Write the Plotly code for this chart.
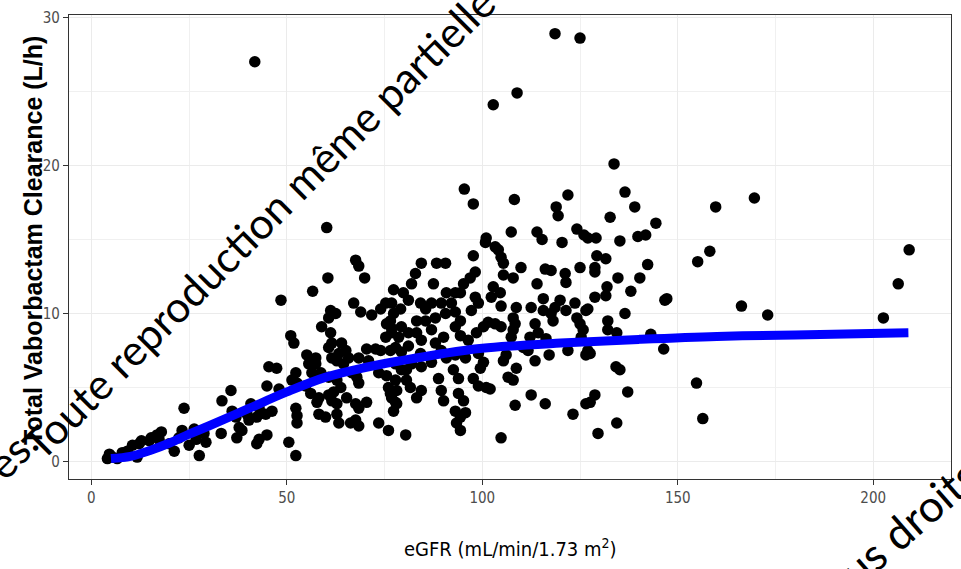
import plotly.graph_objects as go

# Observed total vaborbactam clearance (L/h) against eGFR (mL/min/1.73 m2)
egfr = [
    4.6, 4.1, 5.4, 6.6, 8.4, 7.9, 9.2, 10.5, 12.2, 12.8, 11.7, 14.8, 15.3, 16.8, 17.9, 17.3, 19.9, 21.2,
    23.7, 23.2, 22.4, 25.0, 26.3, 26.8, 27.6, 29.3, 28.8, 33.4, 35.7, 36.0, 37.0, 37.8, 33.2, 38.5, 37.2,
    40.8, 39.8, 42.3, 40.3, 42.9, 42.9, 44.6, 42.3, 46.2, 44.9, 44.9, 48.0, 45.4, 47.4, 48.5, 50.5, 52.3,
    52.3, 52.6, 52.6, 51.0, 51.8, 52.3, 51.3, 52.6, 54.8, 56.1, 58.2, 57.7, 55.1, 57.4, 57.4, 55.6, 58.7,
    56.4, 56.6, 58.9, 58.2, 59.9, 60.2, 60.5, 61.2, 62.5, 60.7, 61.2, 61.5, 60.7, 64.0, 65.1, 63.3, 61.5,
    62.8, 64.5, 65.8, 60.7, 62.8, 63.8, 62.0, 60.7, 61.5, 62.8, 62.8, 63.3, 65.3, 67.6, 68.4, 70.4, 67.6,
    66.3, 68.4, 66.6, 67.9, 68.4, 67.6, 68.4, 69.9, 67.1, 68.9, 70.4, 72.7, 74.0, 70.9, 68.4, 71.7, 74.0,
    75.3, 77.3, 76.8, 77.3, 75.5, 75.3, 76.8, 73.5, 75.5, 77.8, 76.0, 76.8, 77.8, 73.5, 76.0, 80.4,
    100.8, 103.3, 97.7, 98.2, 96.9, 84.4, 88.3, 90.6, 82.9, 81.9, 87.5, 79.8, 81.1, 90.8, 93.1, 92.1,
    95.2, 94.4, 98.2, 99.0, 97.2, 79.1, 84.2, 87.0, 85.5, 89.5, 90.6, 83.2, 85.5, 88.0, 93.1, 94.4, 93.1,
    76.5, 76.8, 79.3, 81.1, 78.6, 83.2, 84.4, 87.0, 90.1, 88.0, 94.4, 96.4, 98.5, 100.3, 101.5, 77.8,
    76.5, 79.3, 81.1, 84.2, 89.5, 90.8, 93.1, 95.7, 99.0, 100.3, 99.5, 77.8, 79.3, 81.9, 80.6, 84.4,
    87.0, 88.8, 92.6, 93.9, 97.7, 99.0, 101.0, 78.1, 76.5, 80.6, 81.6, 84.4, 83.2, 89.5, 90.1, 93.9,
    95.2, 78.1, 77.3, 93.1, 94.4, 93.4, 95.7, 94.4,
    95.4, 97.7, 108.2, 121.9, 118.9, 119.4, 101.0, 107.4, 114.0, 115.3, 120.4, 124.2, 126.0, 129.1,
    135.2, 139.8, 141.8, 132.7, 136.5, 139.0, 133.7, 144.4,
    104.1, 104.8, 105.4, 105.4, 107.9, 109.9, 116.1, 117.6, 121.2, 121.4, 125.0, 114.0, 102.8, 104.6,
    102.3, 104.8, 108.7, 107.9, 108.4, 112.5, 115.6, 115.6, 117.6, 118.6, 118.1, 119.9, 121.4, 123.7,
    124.2, 125.0, 126.5, 128.8, 103.3, 104.8, 107.9, 107.4, 113.5, 114.3, 112.2, 116.3, 110.5, 111.7,
    121.9, 125.8, 125.3, 105.4, 106.1, 113.5, 117.1, 126.5, 127.0, 108.7, 106.6, 107.9, 102.0, 112.5,
    108.4, 116.1, 123.2, 126.5, 128.8, 104.8, 129.6,
    127.0, 129.3, 131.6, 128.8, 128.8, 142.3, 134.7, 140.3, 131.9, 131.6, 138.0, 147.2, 146.7, 127.0,
    136.5, 132.1, 132.1, 134.4, 143.1, 146.4, 127.6, 134.2, 135.2, 137.2, 127.6, 134.4,
    159.7, 169.6, 155.1, 158.2, 166.3, 173.0, 202.6, 206.4, 209.2, 154.8, 156.4,
    41.8, 118.6, 125.0, 102.8, 108.9,
]
clearance = [
    0.5, 0.2, 0.3, 0.2, 0.4, 0.6, 0.7, 1.1, 1.2, 1.4, 0.3, 1.4, 1.6, 1.8, 2.0, 1.5, 1.2, 0.7,
    3.6, 2.1, 1.6, 1.1, 2.2, 1.5, 0.4, 1.3, 1.9, 4.1, 4.8, 3.4, 3.0, 2.3, 1.9, 2.1, 1.6,
    3.9, 3.2, 1.2, 2.8, 1.5, 3.6, 3.2, 3.0, 3.4, 1.8, 5.1, 4.9, 6.4, 6.3, 10.9, 1.3, 0.4,
    3.6, 3.1, 2.6, 8.5, 8.0, 6.0, 5.5, 5.3, 5.1, 4.6, 4.3, 4.0, 7.2, 7.0, 6.6, 6.6, 6.0,
    6.0, 11.5, 9.1, 3.2, 3.0, 15.8, 12.4, 10.2, 10.0, 9.7, 8.7, 8.0, 7.7, 8.0, 7.5, 7.3, 7.0,
    6.8, 6.6, 7.0, 5.7, 5.5, 5.0, 4.7, 4.5, 4.1, 3.9, 3.2, 2.6, 4.3, 3.9, 3.6, 4.0, 2.8,
    2.6, 2.4, 6.0, 5.7, 5.3, 13.6, 13.2, 12.4, 10.7, 10.1, 7.6, 7.6, 7.5, 6.8, 7.0, 9.9, 10.3,
    10.7, 11.6, 10.7, 10.0, 9.3, 8.4, 8.7, 6.0, 5.8, 5.5, 5.0, 4.3, 4.0, 2.6, 2.1, 1.8,
    14.8, 14.5, 13.9, 12.8, 12.4, 13.4, 13.4, 13.4, 12.7, 12.0, 12.0, 11.4, 10.9, 11.4, 11.4, 10.7,
    12.0, 11.4, 11.1, 10.7, 10.2, 10.3, 10.7, 10.7, 10.3, 10.7, 10.0, 9.5, 9.5, 9.7, 10.1, 9.5, 9.1,
    9.5, 9.0, 9.1, 8.7, 8.4, 8.7, 8.2, 8.9, 8.4, 8.0, 8.5, 8.2, 8.7, 9.1, 9.4, 7.7,
    7.5, 7.4, 7.8, 7.3, 7.5, 7.0, 7.2, 7.0, 7.3, 6.7, 6.3, 6.6, 6.2, 6.6, 6.2, 6.4,
    6.7, 5.6, 6.2, 5.6, 5.6, 5.1, 5.0, 4.8, 4.6, 5.5, 5.0, 4.8, 4.3, 4.8, 4.1, 4.6,
    4.1, 3.9, 3.4, 3.4, 3.0, 2.6, 3.3, 2.1,
    18.4, 17.4, 17.7, 18.0, 17.2, 16.6, 15.1, 15.5, 15.5, 15.0, 14.8, 15.7, 15.3, 15.1,
    14.9, 15.2, 15.3, 16.5, 18.2, 17.2, 20.1, 16.1,
    14.3, 13.8, 13.4, 12.6, 12.4, 13.1, 13.0, 12.9, 12.7, 12.1, 13.1, 12.0, 11.8, 11.4,
    11.1, 10.5, 10.4, 9.7, 9.3, 10.4, 11.0, 10.2, 10.0, 10.4, 9.5, 10.9, 10.2, 10.7,
    9.7, 9.3, 10.2, 11.1, 9.3, 9.1, 8.9, 8.4, 9.3, 8.7, 8.4, 8.3, 7.7, 7.5,
    7.5, 8.9, 8.4, 6.8, 7.2, 6.8, 7.2, 7.2, 7.5, 6.3, 5.7, 5.5, 4.9, 4.5,
    3.8, 3.9, 3.2, 3.9, 4.5, 1.6, 1.9,
    15.1, 13.9, 13.7, 13.1, 12.8, 13.3, 12.4, 12.4, 11.8, 11.2, 11.5, 11.0, 10.9, 10.3,
    10.0, 9.5, 8.9, 8.7, 8.6, 7.6, 7.3, 6.4, 6.2, 4.7, 4.0, 2.6,
    17.2, 17.8, 13.5, 14.2, 10.5, 9.9, 9.7, 12.0, 14.3, 5.3, 2.9,
    27.0, 28.9, 28.6, 24.1, 24.9,
]

# Model-predicted clearance curve
fit_egfr = [5, 10, 15, 20, 25, 30, 40, 50, 60, 70, 80, 90, 100, 120, 140, 160, 180, 209]
fit_cl = [0.2, 0.35, 0.75, 1.25, 1.85, 2.4, 3.55, 4.7, 5.7, 6.35, 6.85, 7.3, 7.65, 8.0, 8.25, 8.45, 8.55, 8.7]

x_ticks = [0, 50, 100, 150, 200]
y_ticks = [0, 10, 20, 30]

NARROW = "Liberation Sans Narrow, DejaVu Sans Condensed, Arial Narrow, Liberation Sans, Arial"
WATERMARK = "Lato, Open Sans, sans-serif"

fig = go.Figure()
fig.add_trace(go.Scatter(
    x=egfr, y=clearance, mode="markers",
    marker=dict(color="black", size=11.5, line=dict(width=0)),
    showlegend=False, hoverinfo="skip",
))
fig.add_trace(go.Scatter(
    x=fit_egfr, y=fit_cl, mode="lines",
    line=dict(color="#0000FF", width=9, shape="spline"),
    showlegend=False, hoverinfo="skip",
))

axis_common = dict(
    showline=True, mirror=True, linecolor="#333333", linewidth=1.3,
    showgrid=True, gridcolor="#EBEBEB", gridwidth=1.3,
    zeroline=False,
    ticks="outside", ticklen=5, tickcolor="#333333", tickwidth=1.2,
    tickfont=dict(family=NARROW, size=15, color="#4D4D4D"),
)

fig.update_xaxes(
    range=[-5.73, 219.9], tickmode="array", tickvals=x_ticks,
    ticktext=[str(v) for v in x_ticks],
    minor=dict(tick0=0, dtick=25, showgrid=True, gridcolor="#F0F0F0", gridwidth=0.8),
    **axis_common,
)
fig.update_yaxes(
    range=[-1.18, 30.16], tickmode="array", tickvals=y_ticks,
    ticktext=[str(v) for v in y_ticks],
    minor=dict(tick0=0, dtick=5, showgrid=True, gridcolor="#F0F0F0", gridwidth=0.8),
    **axis_common,
)

annotations = [
    dict(text="eGFR (mL/min/1.73 m<sup>2</sup>)", xref="paper", yref="paper",
         x=0.5, y=-0.148, xanchor="center", yanchor="middle", showarrow=False,
         font=dict(family=NARROW, size=20, color="black")),
    dict(text="<b>Total Vaborbactam Clearance (L/h)</b>", xref="paper", yref="paper",
         x=-0.0408, y=0.513, xanchor="center", yanchor="middle", showarrow=False,
         textangle=-90, font=dict(family="Liberation Sans, Arial", size=25, color="black")),
    # diagonal copyright notice
    dict(text="Toute reproduction même partielle est interdite", xref="paper", yref="paper",
         x=0.3092, y=0.7318, xanchor="center", yanchor="middle", showarrow=False,
         textangle=-45, font=dict(family=WATERMARK, size=42.5, color="black")),
    dict(text="Tous droits réservés.", xref="paper", yref="paper",
         x=-0.197, y=-0.193, xanchor="center", yanchor="middle", showarrow=False,
         textangle=-45, font=dict(family=WATERMARK, size=42.5, color="black")),
    dict(text="Tous droits réservés.", xref="paper", yref="paper",
         x=1.0113, y=0.0043, xanchor="center", yanchor="middle", showarrow=False,
         textangle=-41, font=dict(family=WATERMARK, size=44, color="black")),
]

fig.update_layout(
    width=961, height=569,
    margin=dict(l=69, r=9, t=13, b=90),
    paper_bgcolor="white", plot_bgcolor="white",
    annotations=annotations,
)

fig.write_html("out.html")
